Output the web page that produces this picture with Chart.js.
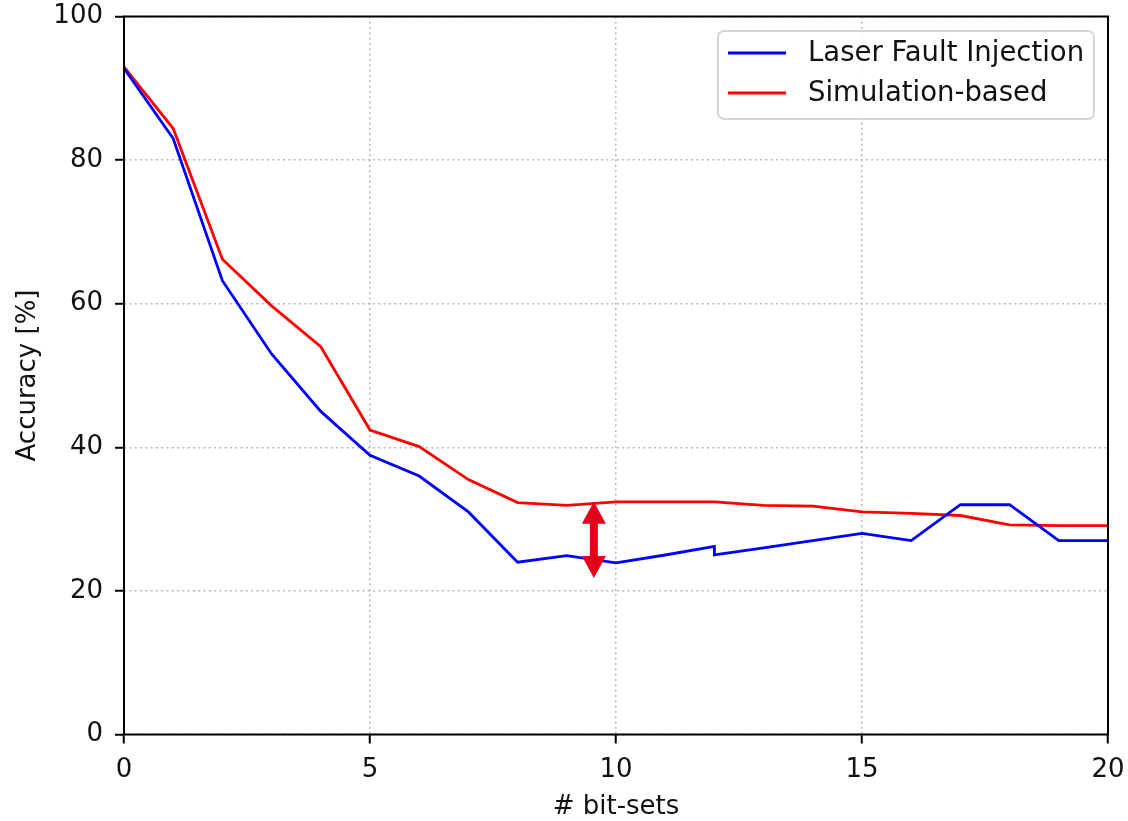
<!DOCTYPE html>
<html>
<head>
<meta charset="utf-8">
<script src="https://cdn.jsdelivr.net/npm/chart.js@4/dist/chart.umd.min.js"></script>
<style>
html, body { margin: 0; padding: 0; background: #fff; }
canvas { display: block; }
</style>
</head>
<body>
<canvas id="myChart" width="1128" height="821"></canvas>
<script>
// donnees
var bitSets = [0, 1, 2, 3, 4, 5, 6, 7, 8, 9, 10, 11, 12, 13, 14, 15, 16, 17, 18, 19, 20];
var laserX = [0, 1, 2, 3, 4, 5, 6, 7, 8, 9, 10, 11, 12, 12, 13, 14, 15, 16, 17, 18, 19, 20];
var laserAcc = [92.8, 83, 63.2, 53, 45, 38.9, 36, 31, 24, 24.9, 23.9, 25, 26.2, 25, 26, 27, 28, 27, 32, 32, 27, 27];
var simAcc = [93, 84.4, 66.2, 59.7, 54, 42.4, 40.1, 35.5, 32.3, 31.9, 32.4, 32.4, 32.4, 31.9, 31.8, 31, 30.8, 30.5, 29.2, 29.1, 29.1];
var xTicks = [0, 5, 10, 15, 20];
var yTicks = [0, 20, 40, 60, 80, 100];
var gapArrow = { x: 9.55, top: 32.4, bottom: 21.8 };

var FONT = 'DejaVu Sans';

function toPoints(xs, ys) {
    return xs.map(function(x, i) { return { x: x, y: ys[i] }; });
}

// cadre complet autour de la zone du graphique
var framePlugin = {
    id: 'frame',
    afterDatasetsDraw: function(chart) {
        var ctx = chart.ctx, a = chart.chartArea;
        ctx.save();
        ctx.strokeStyle = '#000';
        ctx.lineWidth = 2;
        ctx.setLineDash([]);
        ctx.strokeRect(a.left, a.top, a.right - a.left, a.bottom - a.top);
        ctx.restore();
    }
};

// fleche double rouge entre les deux courbes
var arrowPlugin = {
    id: 'gapArrow',
    afterDatasetsDraw: function(chart) {
        var ctx = chart.ctx;
        var cx = chart.scales.x.getPixelForValue(gapArrow.x);
        var y1 = chart.scales.y.getPixelForValue(gapArrow.top);
        var y2 = chart.scales.y.getPixelForValue(gapArrow.bottom);
        var hw = 12, sw = 4, hl = 22;
        ctx.save();
        ctx.fillStyle = '#e2001a';
        ctx.beginPath();
        ctx.moveTo(cx, y1);
        ctx.lineTo(cx + hw, y1 + hl);
        ctx.lineTo(cx + sw, y1 + hl);
        ctx.lineTo(cx + sw, y2 - hl);
        ctx.lineTo(cx + hw, y2 - hl);
        ctx.lineTo(cx, y2);
        ctx.lineTo(cx - hw, y2 - hl);
        ctx.lineTo(cx - sw, y2 - hl);
        ctx.lineTo(cx - sw, y1 + hl);
        ctx.lineTo(cx - hw, y1 + hl);
        ctx.closePath();
        ctx.fill();
        ctx.restore();
    }
};

// legende en haut a droite, dans la zone du graphique
var legendPlugin = {
    id: 'boxLegend',
    afterDraw: function(chart) {
        var ctx = chart.ctx, a = chart.chartArea;
        var bw = 376, bh = 88;
        var bx = a.right - 14 - bw, by = a.top + 14.5;
        ctx.save();
        ctx.beginPath();
        ctx.roundRect(bx, by, bw, bh, 6);
        ctx.fillStyle = 'rgba(255,255,255,0.85)';
        ctx.fill();
        ctx.strokeStyle = '#d6d6d6';
        ctx.lineWidth = 2;
        ctx.stroke();
        ctx.font = '27.5px "' + FONT + '"';
        ctx.textBaseline = 'middle';
        chart.data.datasets.forEach(function(ds, i) {
            var y = by + 22 + i * 40;
            ctx.strokeStyle = ds.borderColor;
            ctx.lineWidth = 3;
            ctx.beginPath();
            ctx.moveTo(bx + 10, y);
            ctx.lineTo(bx + 68, y);
            ctx.stroke();
            ctx.fillStyle = '#111';
            ctx.fillText(ds.label, bx + 90, y + 1);
        });
        ctx.restore();
    }
};

var gridOpts = {
    color: '#b8b8b8',
    lineWidth: 1.5,
    tickColor: '#000',
    tickLength: 9,
    tickWidth: 2,
    tickBorderDash: []
};

var ctx = document.getElementById('myChart').getContext('2d');
var myChart = new Chart(ctx, {
    type: 'line',
    data: {
        datasets: [
            {
                label: 'Laser Fault Injection',
                data: toPoints(laserX, laserAcc),
                borderColor: '#0000ff',
                borderWidth: 2.8,
                pointRadius: 0,
                tension: 0,
                fill: false
            },
            {
                label: 'Simulation-based',
                data: toPoints(bitSets, simAcc),
                borderColor: '#ff0000',
                borderWidth: 2.8,
                pointRadius: 0,
                tension: 0,
                fill: false
            }
        ]
    },
    options: {
        responsive: false,
        animation: false,
        devicePixelRatio: 1,
        layout: { padding: { top: 16.5, right: 20, left: 0, bottom: 0 } },
        plugins: {
            legend: { display: false },
            tooltip: { enabled: false }
        },
        scales: {
            x: {
                type: 'linear',
                min: 0,
                max: 20,
                afterBuildTicks: function(s) { s.ticks = xTicks.map(function(v) { return { value: v }; }); },
                afterFit: function(s) {
                    s.height = 86.5;
                    s.paddingLeft = 0;
                    s.paddingRight = 0;
                },
                ticks: {
                    color: '#111',
                    padding: 11,
                    maxRotation: 0,
                    font: { family: FONT, size: 26 }
                },
                grid: gridOpts,
                border: { display: false, dash: [2, 3.3] },
                title: {
                    display: true,
                    text: '# bit-sets',
                    color: '#111',
                    font: { family: FONT, size: 26, lineHeight: 1.05 },
                    padding: { top: 0, bottom: 0 }
                }
            },
            y: {
                min: 0,
                max: 100,
                afterBuildTicks: function(s) { s.ticks = yTicks.map(function(v) { return { value: v }; }); },
                afterFit: function(s) {
                    s.width = 124;
                    s.paddingTop = 0;
                    s.paddingBottom = 0;
                },
                ticks: {
                    color: '#111',
                    padding: 12,
                    font: { family: FONT, size: 26 }
                },
                grid: gridOpts,
                border: { display: false, dash: [2, 3.3] },
                title: {
                    display: true,
                    text: 'Accuracy [%]',
                    color: '#111',
                    font: { family: FONT, size: 26 },
                    padding: { top: 13, bottom: 0 }
                }
            }
        }
    },
    plugins: [framePlugin, arrowPlugin, legendPlugin]
});
</script>
</body>
</html>
